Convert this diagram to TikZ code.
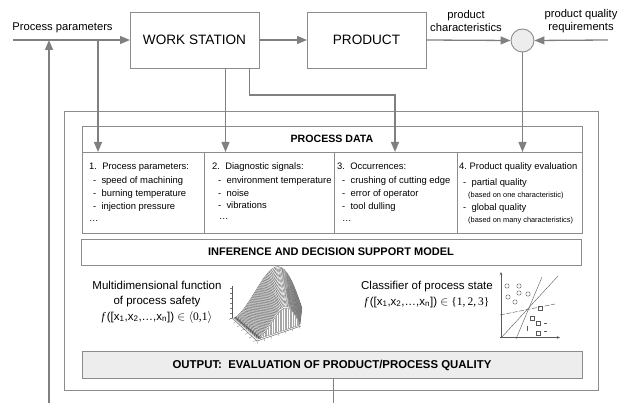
\documentclass[tikz,border=0pt]{standalone}
\usepackage{fontspec}
\setmainfont{Liberation Sans}
\newfontfamily\serifont{Liberation Serif}
\usetikzlibrary{arrows.meta,calc}
\definecolor{ln}{gray}{0.5}
\definecolor{bx}{gray}{0.55}
\definecolor{fillg}{gray}{0.93}
\begin{document}
\begin{tikzpicture}[x=1pt,y=-1pt,
  conn/.style={draw=ln,line width=1.3pt},
  arr/.style={conn,-{Triangle[length=10pt,width=8pt]}},
  box/.style={draw=bx,line width=0.9pt,inner sep=0pt,outer sep=0pt},
  cell/.style={box,anchor=north west},
  big/.style={font=\fontsize{13.6}{16}\selectfont},
  lbl/.style={inner sep=0pt,font=\fontsize{11.2}{13}\selectfont,align=center},
  head/.style={font=\fontsize{10.6}{12}\selectfont\bfseries},
  ct/.style={inner sep=0pt,anchor=west,font=\fontsize{9.4}{11}\selectfont,text height=6.8pt,text depth=2pt},
  cs/.style={inner sep=0pt,anchor=west,font=\fontsize{7.4}{9}\selectfont,text height=5.4pt,text depth=1.6pt},
  txt/.style={inner sep=0pt,font=\fontsize{11.5}{15.5}\selectfont,align=center},
  mesh/.style={draw=gray!60!black,line width=0.3pt,fill=white},
  thin/.style={draw=gray!70!black,line width=0.4pt}
]
\useasboundingbox (0,0) rectangle (624,403);

% top row
\node[box,big,minimum width=129pt,minimum height=56pt] (ws) at (194.5,40) {WORK STATION};
\node[box,big,minimum width=119pt,minimum height=56pt] (prod) at (366.5,40) {PRODUCT};
\node[circle,draw=bx,line width=0.9pt,fill=fillg,minimum size=23pt,inner sep=0pt] (cmp) at (522.5,40.5) {};

\node[lbl] (pp) at (62.5,27.5) {Process parameters};
\node[lbl] (pc) at (466,21.5) {product\\characteristics};
\node[lbl] (pq) at (581,21.5) {product quality\\requirements};

\coordinate (pin) at (13,40);
\coordinate (qin) at (608,40);
\draw[arr] (pin) -- (ws.west);
\draw[arr] (ws.east) -- (prod.west);
\draw[arr] (prod.east) -- (cmp.west);
\draw[arr] (qin) -- (cmp.east);

% frame
\node[cell,minimum width=534pt,minimum height=279pt] (outer) at (64,111) {};
\node[cell,minimum width=500pt,minimum height=26pt,head] (pdh) at (82,126) {PROCESS DATA};
\node[cell,minimum width=122pt,minimum height=81pt] (col1) at (82,152) {};
\node[cell,minimum width=130pt,minimum height=81pt] (col2) at (204,152) {};
\node[cell,minimum width=123pt,minimum height=81pt] (col3) at (334,152) {};
\node[cell,minimum width=125pt,minimum height=81pt] (col4) at (457,152) {};
\node[cell,minimum width=500pt,minimum height=25.7pt,font=\fontsize{11}{13}\selectfont\bfseries] (inf) at (81,239.3) {INFERENCE AND DECISION SUPPORT MODEL};
\node[cell,fill=fillg,minimum width=500pt,minimum height=26.6pt,font=\fontsize{11.4}{13}\selectfont\bfseries] (out) at (82,351.7) {OUTPUT:\ \ EVALUATION OF PRODUCT/PROCESS QUALITY};

% connectors into the columns
\coordinate (b1) at (98,40);
\draw[arr] (b1) -- (b1 |- col1.north);
\coordinate (w1) at ($(ws.south)+(31,0)$);
\draw[arr] (w1) -- (w1 |- col2.north);
\coordinate (w2) at ($(ws.south)+(55,0)$);
\coordinate (c3) at (395,152);
\draw[arr] (w2) |- ($(c3)+(0,-57)$) -- (c3 |- col3.north);
\draw[arr] (cmp.south) -- (cmp.south |- col4.north);

% feedback and output lines
\coordinate (fb) at (49,403);
\draw[arr] (fb) -- (fb |- pin);
\coordinate (ob) at (333.3,403);
\draw[conn] (ob |- out.south) -- (ob);

% column texts
\foreach \x/\y/\t [count=\i] in {89/167/{1.\ \ Process parameters:}, 93/181/{-\ \ speed of machining}, 93/194/{-\ \ burning temperature}, 93/207/{-\ \ injection pressure}, 89/219/{\ldots}}
  \node[ct] (ca\i) at (\x,\y) {\t};
\foreach \x/\y/\t [count=\i] in {212/167/{2.\ \ Diagnostic signals:}, 218/181/{-\ \ environment temperature}, 218/194/{-\ \ noise}, 218/206/{-\ \ vibrations}, 219/217/{\ldots}}
  \node[ct] (cb\i) at (\x,\y) {\t};
\foreach \x/\y/\t [count=\i] in {337/167/{3.\ \ Occurrences:}, 342/181/{-\ \ crushing of cutting edge}, 342/194/{-\ \ error of operator}, 342/207/{-\ \ tool dulling}, 342/219/{\ldots}}
  \node[ct] (cc\i) at (\x,\y) {\t};
\node[ct] (cd1) at (459,167) {4.\ Product quality evaluation};
\node[ct] (cd2) at (463,183) {-\ \ partial quality};
\node[cs] (cd3) at (468,196) {(based on one characteristic)};
\node[ct] (cd4) at (463,208) {-\ \ global quality};
\node[cs] (cd5) at (468,221) {(based on many characteristics)};

% model texts
\node[txt] (mf) at (157,302) {Multidimensional function\\of process safety\\{\serifont\itshape f}\,([x\textsubscript{1},x\textsubscript{2},\ldots,x\textsubscript{n}])\ $\in$\ {\serifont$\langle$0,1$\rangle$}};
\node[txt] (cl) at (427,294.5) {Classifier of process state\\{\serifont\itshape f}\,([x\textsubscript{1},x\textsubscript{2},\ldots,x\textsubscript{n}])\ $\in$\ {\serifont\{1,\,2,\,3\}}};

% surface plot
\foreach \t in {0,0.03,...,0.97}{
  \filldraw[mesh] plot[domain=0:1,samples=24]
    ({234+24*\t+\x*(68-26*\t)},{318+21*\t+\x*(-10-4*\t)-(45-23*\t)*sin(180*\x*sqrt(\x))})
    -- cycle;
}
\filldraw[mesh] plot[domain=0:1,samples=24]
    ({258+\x*42},{339-\x*14-22*sin(180*\x*sqrt(\x))}) -- cycle;
\foreach \u in {0.04,0.08,...,0.97}{
  \draw[draw=gray!70,line width=0.3pt] ({258+\u*42},{339-\u*14}) -- ({258+\u*42},{339-\u*14-22*sin(180*\u*sqrt(\u))});
}
\draw[thin] (232,318) -- (232,286);
\draw[thin] (232,318) -- (257,341) -- (301,326);
\foreach \k in {0,1,...,6}{
  \draw[draw=gray,line width=0.3pt] (232,{318-5*\k}) -- (230,{318-5*\k});
  \draw[draw=gray,line width=0.3pt] ({232+4*\k},{318+3.7*\k}) -- ({229+4*\k},{319.5+3.7*\k});
  \draw[draw=gray,line width=0.3pt] ({257+7*\k},{341-2.5*\k}) -- ({257.5+7*\k},{343.5-2.5*\k});
}

% classifier plot
\draw[thin,-{Stealth[length=3pt,width=2.5pt]}] (501,338) -- (501,272);
\draw[thin,-{Stealth[length=3pt,width=2.5pt]}] (500,337.5) -- (560,337.5);
\draw[thin] (501,338) -- (558,276);
\draw[thin] (516,339) -- (542,277);
\draw[thin,dash pattern=on 5pt off 1.5pt] (500,315) -- (555,304);
\foreach \p in {(507,286),(519,286),(508,297),(519,293),(515,302),(528,294)}
  \draw[thin] \p circle (2.2pt);
\foreach \p in {(540,308),(532,318),(538,323),(538,333)}
  \draw[thin] \p ++(-2.2,-2.2) rectangle ++(4.4,4.4);
\draw[thin] (544,323) -- (547,323);
\draw[thin] (544,331) -- (547,331);
\draw[thin] (527,326) -- (527,331);
\end{tikzpicture}
\end{document}
